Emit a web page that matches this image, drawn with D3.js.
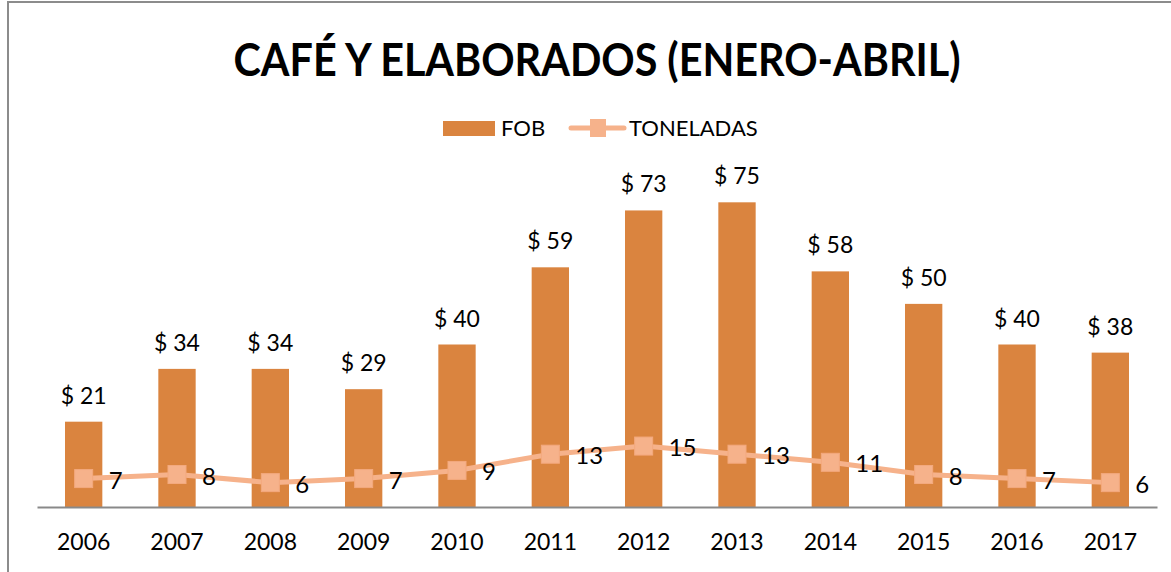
<!DOCTYPE html>
<html><head><meta charset="utf-8">
<script src="https://cdn.jsdelivr.net/npm/d3@7"></script>
<style>body{margin:0;background:#fff}svg{display:block}text{font-family:Lato,"Open Sans",sans-serif}</style>
</head><body><svg id="c" width="1171" height="572"></svg>
<script>
const years = ["2006","2007","2008","2009","2010","2011","2012","2013","2014","2015","2016","2017"];
const fob = [21,34,34,29,40,59,73,75,58,50,40,38];
const toneladas = [7,8,6,7,9,13,15,13,11,8,7,6];
const seriesNames = ["FOB","TONELADAS"];
const title = "CAFÉ Y ELABORADOS (ENERO-ABRIL)";

const svg = d3.select("#c");
const barColor = "#DA843F", lineColor = "#F6B28B";

// chart border
svg.append("rect").attr("x",8).attr("y",2).attr("width",1180).attr("height",600)
  .attr("fill","none").attr("stroke","#8c8c8c").attr("stroke-width",2);

svg.append("text").attr("x",597).attr("y",76).attr("text-anchor","middle")
  .attr("font-size",46).attr("font-weight","bold").attr("fill","#000")
  .attr("textLength",727).attr("lengthAdjust","spacingAndGlyphs").text(title);

const x = d3.scaleBand().domain(years).range([37,1157]).paddingInner(0.6).paddingOuter(0.3);
const y = d3.scaleLinear().domain([0,80]).range([507,182]);

const g = svg.append("g");
g.selectAll("rect.bar").data(years).join("rect").attr("class","bar")
  .attr("x",d=>x(d)).attr("width",x.bandwidth())
  .attr("y",(d,i)=>y(fob[i])).attr("height",(d,i)=>y(0)-y(fob[i]))
  .attr("fill",barColor);

// axis
const ax = svg.append("g").attr("transform","translate(0,507)")
  .call(d3.axisBottom(x).tickSize(0).tickPadding(27));
ax.select(".domain").attr("stroke","#898989").attr("stroke-width",2);
ax.selectAll("text").attr("font-size",23).attr("fill","#000").attr("font-family","Lato,'Open Sans',sans-serif");

// bar labels
g.selectAll("text.bl").data(years).join("text").attr("class","bl")
  .attr("x",d=>x(d)+x.bandwidth()/2).attr("y",(d,i)=>y(fob[i])-18)
  .attr("text-anchor","middle").attr("font-size",23).attr("fill","#000")
  .text((d,i)=>"$ "+fob[i]);

// line
const cx = d=>x(d)+x.bandwidth()/2;
const line = d3.line().x(d=>cx(d)).y((d,i)=>y(toneladas[i]));
g.append("path").datum(years).attr("d",line).attr("fill","none")
  .attr("stroke",lineColor).attr("stroke-width",5).attr("stroke-linecap","round");
g.selectAll("rect.m").data(years).join("rect").attr("class","m")
  .attr("x",d=>cx(d)-9).attr("y",(d,i)=>y(toneladas[i])-9).attr("width",18).attr("height",18)
  .attr("fill",lineColor).attr("stroke","#F3A97E").attr("stroke-width",1);
g.selectAll("text.ll").data(years).join("text").attr("class","ll")
  .attr("x",d=>cx(d)+25).attr("y",(d,i)=>y(toneladas[i])+10)
  .attr("font-size",24).attr("fill","#000").text((d,i)=>toneladas[i]);

// legend
const lg = svg.append("g");
lg.append("rect").attr("x",443).attr("y",121).attr("width",52).attr("height",15).attr("fill",barColor);
lg.append("text").attr("x",501).attr("y",136).attr("font-size",22).attr("fill","#000").text(seriesNames[0]);
lg.append("line").attr("x1",571).attr("x2",624).attr("y1",128).attr("y2",128)
  .attr("stroke",lineColor).attr("stroke-width",5).attr("stroke-linecap","round");
lg.append("rect").attr("x",590).attr("y",119).attr("width",16).attr("height",18).attr("fill",lineColor);
lg.append("text").attr("x",629).attr("y",136).attr("font-size",22).attr("fill","#000").text(seriesNames[1]);
</script></body></html>
